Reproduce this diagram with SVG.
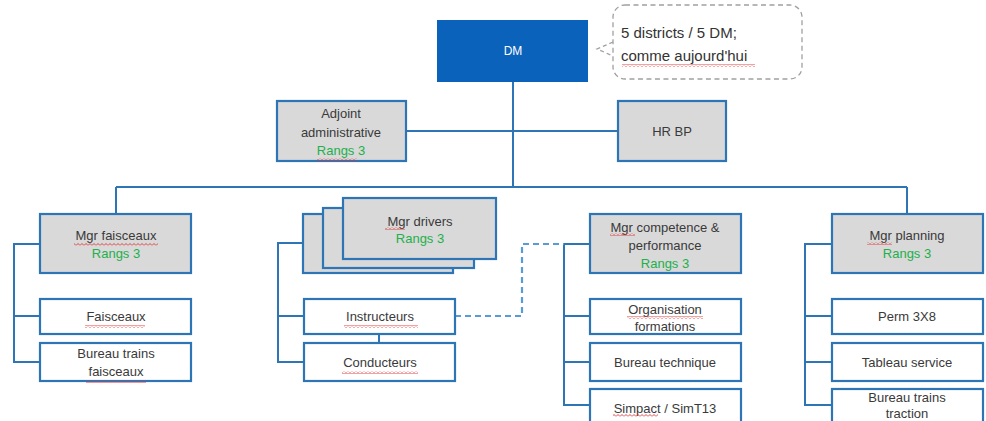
<svg xmlns="http://www.w3.org/2000/svg" width="986" height="421" viewBox="0 0 986 421">
<defs>
<pattern id="sq" width="4" height="3" patternUnits="userSpaceOnUse">
<path d="M0 2.5 L2 0.5 L4 2.5" fill="none" stroke="#E03030" stroke-width="0.9"/>
</pattern>
<style>
.bx{fill:#fff;stroke:#2E75B6;stroke-width:2.2}
.gr{fill:#D9D9D9;stroke:#2E75B6;stroke-width:2.2}
.ln{fill:none;stroke:#2E75B6;stroke-width:2}
.dl{fill:none;stroke:#5B9BD5;stroke-width:2.2;stroke-dasharray:6 4}
text{font-family:"Liberation Sans",Arial,sans-serif;font-size:13px;fill:#3A3A3A;text-anchor:middle;dominant-baseline:central}
.g{fill:#21B04B}
.w{fill:#fff;font-size:12px}
.c{font-size:15px;text-anchor:start;fill:#333}
.sq{fill:url(#sq)}
</style>
</defs>
<rect width="986" height="421" fill="#fff"/>
<g id="connectors">
<path class="ln" d="M513 82 V187 M116 187 H907 M116 187 V214 M907 187 V214 M406 131 H618"/>
<path class="ln" d="M40 244 H14 V362 H40 M14 316 H40"/>
<path class="ln" d="M303 243 H278 V362 H304 M278 316 H304 M379 334 V343"/>
<path class="ln" d="M590 244 H564 V405 H590 M564 316 H590 M564 362 H590"/>
<path class="ln" d="M832 244 H805 V405 H832 M805 316 H832 M805 362 H832"/>
<path class="dl" d="M455 316 H522 V244 H564"/>
</g>
<g id="dm">
<rect x="437" y="20" width="151" height="62" fill="#0B62BA"/>
<text class="w" x="513" y="51">DM</text>
</g>
<g id="callout">
<path d="M613 42 L597 49 L613 56" fill="none" stroke="#A0A0A0" stroke-width="1.3" stroke-dasharray="4 3"/>
<rect x="613" y="5" width="189" height="74" rx="12" fill="#fff" stroke="#A0A0A0" stroke-width="1.3" stroke-dasharray="5 3.5"/>
<text class="c" x="621" y="32">5 districts / 5 DM;</text>
<text class="c" x="621" y="55">comme aujourd'hui</text>
<rect class="sq" x="622" y="64" width="133" height="3"/>
</g>
<g id="adjoint">
<rect class="gr" x="277" y="101" width="129" height="60"/>
<text x="341" y="113">Adjoint</text>
<text x="341" y="132">administrative</text>
<text class="g" x="341" y="150">Rangs 3</text>
<rect class="sq" x="317" y="158" width="40" height="3"/>
</g>
<g id="hrbp">
<rect class="gr" x="618" y="101" width="108" height="60"/>
<text x="672" y="131">HR BP</text>
</g>
<g id="mgr-faisceaux">
<rect class="gr" x="40" y="214" width="151" height="59"/>
<text x="116" y="235">Mgr faisceaux</text>
<text class="g" x="116" y="253">Rangs 3</text>
<rect class="sq" x="74" y="243" width="84" height="3"/>
</g>
<g id="faisceaux">
<rect class="bx" x="40" y="299" width="151" height="35"/>
<text x="116" y="316">Faisceaux</text>
<rect class="sq" x="85" y="325" width="60" height="3"/>
</g>
<g id="bureau-trains-faisceaux">
<rect class="bx" x="40" y="343" width="151" height="38"/>
<text x="116" y="353">Bureau trains</text>
<text x="116" y="371">faisceaux</text>
<rect class="sq" x="86" y="380" width="60" height="3"/>
</g>
<g id="mgr-drivers">
<rect class="gr" x="303" y="214" width="150" height="59"/>
<rect class="gr" x="323" y="208" width="151" height="60"/>
<rect class="gr" x="343" y="198" width="153" height="61"/>
<text x="420" y="221">Mgr drivers</text>
<text class="g" x="420" y="238">Rangs 3</text>
<rect class="sq" x="385" y="227" width="20" height="3"/>
</g>
<g id="instructeurs">
<rect class="bx" x="304" y="299" width="151" height="35"/>
<text x="380" y="316">Instructeurs</text>
<rect class="sq" x="344" y="325" width="74" height="3"/>
</g>
<g id="conducteurs">
<rect class="bx" x="304" y="343" width="151" height="38"/>
<text x="380" y="362">Conducteurs</text>
<rect class="sq" x="342" y="371" width="76" height="3"/>
</g>
<g id="mgr-competence">
<rect class="gr" x="590" y="214" width="151" height="59"/>
<text x="665" y="227">Mgr competence &amp;</text>
<text x="665" y="245">performance</text>
<text class="g" x="665" y="263">Rangs 3</text>
<rect class="sq" x="610" y="233" width="25" height="3"/>
</g>
<g id="organisation">
<rect class="bx" x="590" y="299" width="151" height="35"/>
<text x="665" y="309">Organisation</text>
<text x="665" y="326">formations</text>
<rect class="sq" x="627" y="316" width="76" height="3"/>
</g>
<g id="bureau-technique">
<rect class="bx" x="590" y="343" width="151" height="38"/>
<text x="665" y="362">Bureau technique</text>
</g>
<g id="simpact">
<rect class="bx" x="590" y="389" width="151" height="40"/>
<text x="665" y="408">Simpact / SimT13</text>
<rect class="sq" x="613" y="414" width="45" height="3"/>
</g>
<g id="mgr-planning">
<rect class="gr" x="832" y="214" width="151" height="59"/>
<text x="907" y="235">Mgr planning</text>
<text class="g" x="907" y="253">Rangs 3</text>
<rect class="sq" x="867" y="242" width="25" height="3"/>
</g>
<g id="perm">
<rect class="bx" x="832" y="299" width="151" height="35"/>
<text x="907" y="316">Perm 3X8</text>
</g>
<g id="tableau-service">
<rect class="bx" x="832" y="343" width="151" height="38"/>
<text x="907" y="362">Tableau service</text>
</g>
<g id="bureau-trains-traction">
<rect class="bx" x="832" y="389" width="151" height="40"/>
<text x="907" y="397">Bureau trains</text>
<text x="907" y="413">traction</text>
</g>
</svg>
